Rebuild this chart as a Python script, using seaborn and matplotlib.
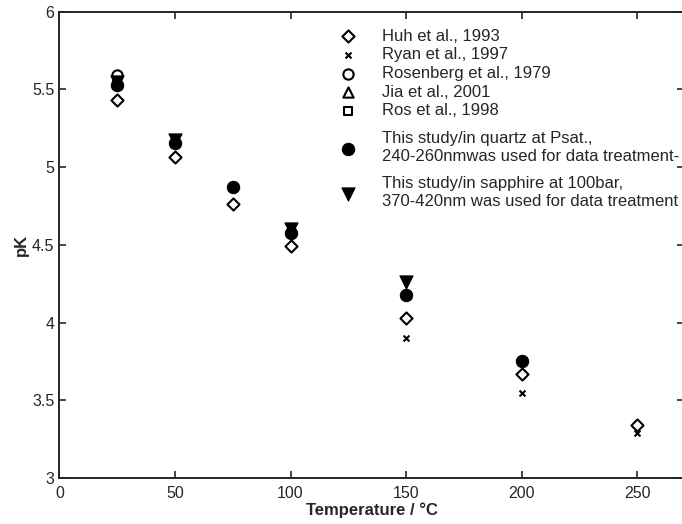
import pandas as pd
import matplotlib.pyplot as plt
import seaborn as sns

# data
huh_t = [25, 50, 75, 100, 150, 200, 250]
huh_pk = [5.43, 5.065, 4.76, 4.49, 4.03, 3.67, 3.34]
ryan_t = [150, 200, 250]
ryan_pk = [3.90, 3.55, 3.29]
rosen_t = [25]
rosen_pk = [5.59]
jia_t = [25]
jia_pk = [5.55]
ros_t = [25]
ros_pk = [5.53]
quartz_t = [25, 50, 75, 100, 150, 200]
quartz_pk = [5.53, 5.155, 4.87, 4.575, 4.18, 3.75]
sapph_t = [25, 50, 100, 150]
sapph_pk = [5.55, 5.175, 4.605, 4.26]

sns.set_style('ticks')
plt.rcParams['font.family'] = ['Liberation Sans', 'DejaVu Sans']

fig = plt.figure(figsize=(6.82, 5.24), dpi=100)
ax = fig.add_axes([0.087, 0.0878, 0.9153, 0.8899])

series = [
    ('Huh et al., 1993', huh_t, huh_pk, dict(marker='D', s=38, facecolor='white', edgecolor='black', linewidth=1.5)),
    ('Ryan et al., 1997', ryan_t, ryan_pk, dict(marker='x', s=18, color='black', linewidth=1.5)),
    ('Rosenberg et al., 1979', rosen_t, rosen_pk, dict(marker='o', s=55, facecolor='white', edgecolor='black', linewidth=1.5)),
    ('Jia et al., 2001', jia_t, jia_pk, dict(marker='^', s=55, facecolor='white', edgecolor='black', linewidth=1.5)),
    ('Ros et al., 1998', ros_t, ros_pk, dict(marker='s', s=35, facecolor='white', edgecolor='black', linewidth=1.5)),
    ('This study/in quartz at Psat.,\n240-260nmwas used for data treatment-', quartz_t, quartz_pk,
     dict(marker='o', s=80, color='black', edgecolor='black')),
    ('This study/in sapphire at 100bar,\n370-420nm was used for data treatment', sapph_t, sapph_pk,
     dict(marker='v', s=90, color='black', edgecolor='black')),
]

for label, t, pk, kw in series:
    df = pd.DataFrame({'t': t, 'pk': pk})
    sns.scatterplot(data=df, x='t', y='pk', label=label, ax=ax, **kw)

ax.set_xlim(0, 270)
ax.set_ylim(3, 6)
ax.set_xticks([0, 50, 100, 150, 200, 250])
ax.set_yticks([3, 3.5, 4, 4.5, 5, 5.5, 6])
ax.set_yticklabels(['3', '3.5', '4', '4.5', '5', '5.5', '6'])
ax.tick_params(direction='in', top=True, right=True, labelsize=11.5, length=5, width=1.2)
ax.tick_params(axis='x', pad=5.5)
for sp in ax.spines.values():
    sp.set_linewidth(1.4)
    sp.set_visible(True)
ax.set_xlabel('Temperature / °C', fontsize=12, fontweight='bold', labelpad=1)
ax.set_ylabel('pK', fontsize=12, fontweight='bold', labelpad=2)

handles, labels = ax.get_legend_handles_labels()
ax.get_legend().remove() if ax.get_legend() else None
leg_kw = dict(loc='upper left', frameon=False, fontsize=12, handletextpad=1.0,
              borderaxespad=0)
leg1 = ax.legend(handles[:5], labels[:5], labelspacing=0.22,
                 bbox_to_anchor=(0.4257, 0.978), **leg_kw)
ax.add_artist(leg1)
leg2 = ax.legend(handles[5:], labels[5:], labelspacing=0.75,
                 bbox_to_anchor=(0.4257, 0.759), **leg_kw)
for txt in leg2.get_texts():
    txt.set_linespacing(1.25)

fig.savefig('out.png', dpi=100)
